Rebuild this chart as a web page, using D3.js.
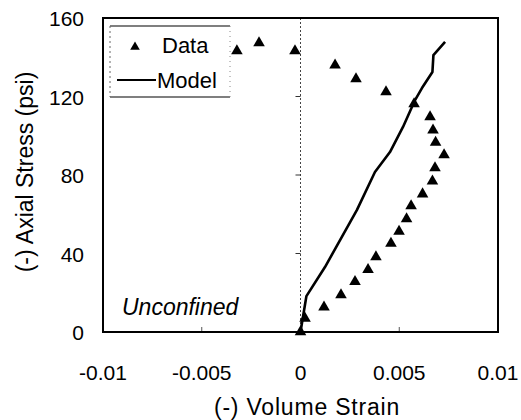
<!DOCTYPE html>
<html>
<head>
<meta charset="utf-8">
<script src="https://cdn.jsdelivr.net/npm/d3@7"></script>
<style>
  body { margin: 0; background: #fff; }
  text { font-family: "Liberation Sans", Arial, sans-serif; fill: #000; }
</style>
</head>
<body>
<div id="chart"></div>
<script>
// Measured data (volume strain, axial stress psi)
const dataStrain = [-0.00322, -0.0021, -0.00028, 0.00175, 0.00281, 0.00433, 0.00575, 0.00656,
  0.00671, 0.00684, 0.00727, 0.00681, 0.00668, 0.00618, 0.0056, 0.00537, 0.00499, 0.00458,
  0.00382, 0.00342, 0.00276, 0.00205, 0.00119, 0.00023, 0];
const dataStress = [143.2, 147.3, 143.2, 136, 128.9, 122.3, 116.2, 109.6,
  102.9, 96.6, 90.2, 83.6, 76.9, 70.3, 64.2, 57.6, 51.2, 45.1,
  38.2, 31.8, 25.7, 18.9, 12.7, 6.9, 0];

// Model curve
const modelStrain = [0, 0.0003, 0.00124, 0.00286, 0.00377, 0.00453, 0.00519, 0.0058, 0.00615, 0.00668, 0.00673, 0.00732];
const modelStress = [0, 18.3, 33.1, 62.2, 81.5, 91.7, 104.5, 118.2, 124.3, 132.5, 141.1, 147.8];

// Tick labels
const xTicks = [-0.01, -0.005, 0, 0.005, 0.01];
const xTickLabels = ['-0.01', '-0.005', '0', '0.005', '0.01'];
const yTicks = [0, 40, 80, 120, 160];

const W = 521, H = 420;
const plot = { left: 103, right: 498, top: 18, bottom: 332 };

const x = d3.scaleLinear().domain([-0.01, 0.01]).range([plot.left, plot.right]);
const y = d3.scaleLinear().domain([0, 160]).range([plot.bottom, plot.top]);

const svg = d3.select('#chart').append('svg')
  .attr('width', W).attr('height', H);

// y axis line through x = 0 (dotted) with left ticks
svg.append('line')
  .attr('x1', x(0)).attr('x2', x(0))
  .attr('y1', y(0)).attr('y2', y(160))
  .attr('stroke', '#444').attr('stroke-width', 1)
  .attr('stroke-dasharray', '2,2');
svg.selectAll('.ytick').data(yTicks.slice(1, 4)).join('line')
  .attr('class', 'ytick')
  .attr('x1', x(0) - 5).attr('x2', x(0))
  .attr('y1', d => y(d)).attr('y2', d => y(d))
  .attr('stroke', '#333').attr('stroke-width', 1);

// small inner ticks on bottom
svg.selectAll('.xtick').data([-0.005, 0.005]).join('line')
  .attr('class', 'xtick')
  .attr('x1', d => x(d)).attr('x2', d => x(d))
  .attr('y1', y(0)).attr('y2', y(0) - 5)
  .attr('stroke', '#555').attr('stroke-width', 1);

// Frame
svg.append('rect')
  .attr('x', plot.left).attr('y', plot.top)
  .attr('width', plot.right - plot.left).attr('height', plot.bottom - plot.top)
  .attr('fill', 'none').attr('stroke', '#000').attr('stroke-width', 2);

// Tick labels
svg.selectAll('.ylab').data(yTicks).join('text')
  .attr('class', 'ylab')
  .attr('x', 84).attr('y', d => y(d) + 8)
  .attr('text-anchor', 'end')
  .attr('font-size', 21)
  .text(d => d);

svg.selectAll('.xlab').data(xTicks).join('text')
  .attr('class', 'xlab')
  .attr('x', d => x(d)).attr('y', 380)
  .attr('text-anchor', 'middle')
  .attr('font-size', 21)
  .text((d, i) => xTickLabels[i]);

// Axis titles
svg.append('text')
  .attr('x', 307).attr('y', 415)
  .attr('text-anchor', 'middle')
  .attr('font-size', 23)
  .attr('letter-spacing', 0.8)
  .text('(-) Volume Strain');

svg.append('text')
  .attr('transform', `translate(33,172) rotate(-90)`)
  .attr('text-anchor', 'middle')
  .attr('font-size', 23)
  .text('(-) Axial Stress (psi)');

// Annotation
svg.append('text')
  .attr('x', 122).attr('y', 315)
  .attr('font-size', 23)
  .attr('font-style', 'italic')
  .text('Unconfined');

// Model line
const line = d3.line()
  .x(d => x(d[0]))
  .y(d => y(d[1]));
svg.append('path')
  .datum(d3.zip(modelStrain, modelStress))
  .attr('fill', 'none')
  .attr('stroke', '#000')
  .attr('stroke-width', 2.6)
  .attr('stroke-linejoin', 'round')
  .attr('d', line);

// Data markers
const tri = d3.symbol().type(d3.symbolTriangle).size(58);
svg.selectAll('.pt').data(d3.zip(dataStrain, dataStress)).join('path')
  .attr('class', 'pt')
  .attr('transform', d => `translate(${x(d[0])},${y(d[1])})`)
  .attr('d', tri)
  .attr('fill', '#000');

// Legend
const lg = svg.append('g');
lg.append('line').attr('x1', 110).attr('x2', 230).attr('y1', 26).attr('y2', 26)
  .attr('stroke', '#000').attr('stroke-width', 1.2);
lg.append('line').attr('x1', 110).attr('x2', 230).attr('y1', 97).attr('y2', 97)
  .attr('stroke', '#000').attr('stroke-width', 1.2);
lg.append('line').attr('x1', 110).attr('x2', 110).attr('y1', 26).attr('y2', 97)
  .attr('stroke', '#666').attr('stroke-width', 1).attr('stroke-dasharray', '2,3');
lg.append('line').attr('x1', 230).attr('x2', 230).attr('y1', 26).attr('y2', 97)
  .attr('stroke', '#888').attr('stroke-width', 1).attr('stroke-dasharray', '1,4');
lg.append('path').attr('d', d3.symbol().type(d3.symbolTriangle).size(40))
  .attr('transform', 'translate(135,47)').attr('fill', '#000');
lg.append('text').attr('x', 162).attr('y', 53).attr('font-size', 22).text('Data');
lg.append('line').attr('x1', 117).attr('x2', 156).attr('y1', 80).attr('y2', 80)
  .attr('stroke', '#000').attr('stroke-width', 2);
lg.append('text').attr('x', 157).attr('y', 88).attr('font-size', 22).text('Model');
</script>
</body>
</html>
